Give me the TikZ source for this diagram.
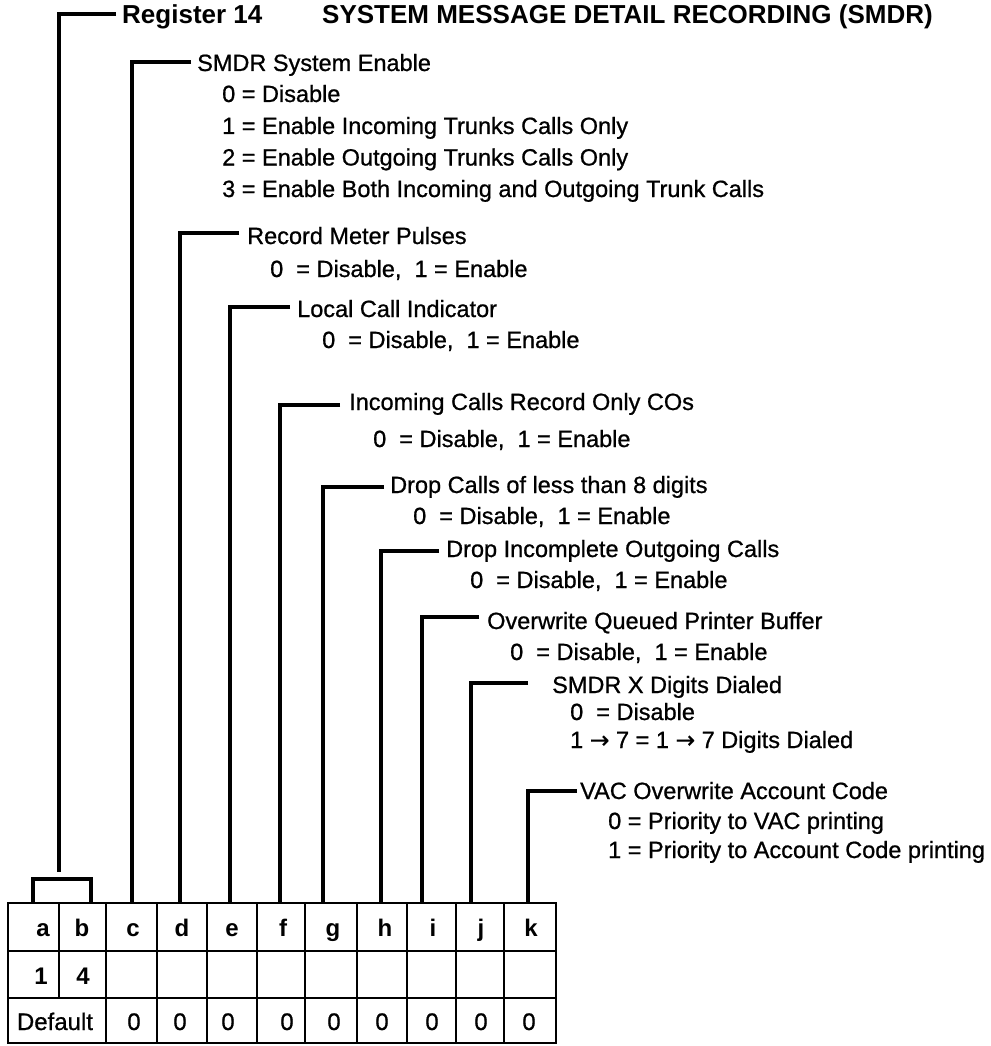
\documentclass[tikz,border=0pt]{standalone}
\usepackage{fontspec}
\setmainfont{Liberation Sans}
\newfontfamily\txtfont{Liberation Sans}[FakeBold=0.8]
\newfontfamily\arrfont{DejaVu Sans}[FakeBold=0.6]
\newcommand{\rarr}{{\arrfont →}}
\begin{document}
\begin{tikzpicture}[x=1pt,y=-1pt,
  lead/.style={line width=3.1pt, line join=miter},
  tab/.style={line width=2.9pt},
  ttl/.style={anchor=base west, inner sep=0pt, font=\fontsize{26}{30}\selectfont\bfseries},
  txt/.style={anchor=base west, inner sep=0pt, font=\fontsize{23.5}{28}\selectfont\txtfont},
  cellb/.style={anchor=base, inner sep=0pt, font=\fontsize{24}{28}\selectfont\bfseries},
  cellr/.style={anchor=base, inner sep=0pt, font=\fontsize{24}{28}\selectfont\txtfont}]
\useasboundingbox (0,0) rectangle (990,1046);

% ---- texts
\node[ttl] (reg) at (122,23.5) {Register 14};
\node[ttl] (sys) at (322,23.5) {SYSTEM MESSAGE DETAIL RECORDING (SMDR)};

\node[txt] (hc) at (197,71) {SMDR System Enable};
\node[txt] (c0) at (222,102) {0 = Disable};
\node[txt] (c1) at (222,134) {1 = Enable Incoming Trunks Calls Only};
\node[txt] (c2) at (222,165.5) {2 = Enable Outgoing Trunks Calls Only};
\node[txt] (c3) at (222,197) {3 = Enable Both Incoming and Outgoing Trunk Calls};

\node[txt] (hd) at (247,244) {Record Meter Pulses};
\node[txt] (d0) at (270,277) {0\ \ = Disable,\ \ 1 = Enable};

\node[txt] (he) at (297,317) {Local Call Indicator};
\node[txt] (e0) at (322,348) {0\ \ = Disable,\ \ 1 = Enable};

\node[txt] (hf) at (349,410) {Incoming Calls Record Only COs};
\node[txt] (f0) at (373,447) {0\ \ = Disable,\ \ 1 = Enable};

\node[txt] (hg) at (390,493) {Drop Calls of less than 8 digits};
\node[txt] (g0) at (413,524) {0\ \ = Disable,\ \ 1 = Enable};

\node[txt] (hh) at (446,557) {Drop Incomplete Outgoing Calls};
\node[txt] (h0) at (470,588) {0\ \ = Disable,\ \ 1 = Enable};

\node[txt] (hi) at (487,629) {Overwrite Queued Printer Buffer};
\node[txt] (i0) at (510,660) {0\ \ = Disable,\ \ 1 = Enable};

\node[txt] (hj) at (552,693) {SMDR X Digits Dialed};
\node[txt] (j0) at (570,720) {0\ \ = Disable};
\node[txt] (j1) at (570,748) {1 \rarr{} 7 = 1 \rarr{} 7 Digits Dialed};

\node[txt] (hk) at (580,799) {VAC Overwrite Account Code};
\node[txt] (k0) at (608,829) {0 = Priority to VAC printing};
\node[txt] (k1) at (608,858) {1 = Priority to Account Code printing};

% ---- table top anchor points for leaders
\coordinate (ta) at (59,872);
\coordinate (tc) at (132,903);
\coordinate (td) at (180,903);
\coordinate (te) at (230,903);
\coordinate (tf) at (280,903);
\coordinate (tg) at (323,903);
\coordinate (th) at (381,903);
\coordinate (ti) at (422,903);
\coordinate (tj) at (471,903);
\coordinate (tk) at (528,903);

% ---- leader corners and ends
\coordinate (ra) at (59,14);   \coordinate (re) at (116,14);
\coordinate (rc) at (132,62);  \coordinate (ec) at (191,62);
\coordinate (rd) at (180,233); \coordinate (ed) at (239,233);
\coordinate (rE) at (230,307); \coordinate (eE) at (290,307);
\coordinate (rf) at (280,405); \coordinate (ef) at (340,405);
\coordinate (rg) at (323,487); \coordinate (eg) at (384,487);
\coordinate (rh) at (381,551); \coordinate (eh) at (439,551);
\coordinate (ri) at (422,617); \coordinate (ei) at (479,617);
\coordinate (rj) at (471,683); \coordinate (ej) at (528,683);
\coordinate (rk) at (528,791); \coordinate (ek) at (577,791);

\draw[lead] (re) -- (ra) -- (ta);
\draw[lead] (ec) -- (rc) -- (tc);
\draw[lead] (ed) -- (rd) -- (td);
\draw[lead] (eE) -- (rE) -- (te);
\draw[lead] (ef) -- (rf) -- (tf);
\draw[lead] (eg) -- (rg) -- (tg);
\draw[lead] (eh) -- (rh) -- (th);
\draw[lead] (ei) -- (ri) -- (ti);
\draw[lead] (ej) -- (rj) -- (tj);
\draw[lead] (ek) -- (rk) -- (tk);

% bracket over a,b
\coordinate (bl) at (33,903);
\coordinate (br) at (91,903);
\draw[lead] (bl) -- (33,879) -- (91,879) -- (br);

% ---- table
\draw[tab] (8,903) rectangle (556,1043);
\draw[tab] (8,951) -- (556,951);
\draw[tab] (8,998) -- (556,998);
\draw[tab] (59,903) -- (59,998);
\foreach \x in {106,157,207,257,305,357,407,456,504}
  \draw[tab] (\x,903) -- (\x,1043);

% header row
\node[cellb] (la) at (43,936) {a};
\node[cellb] (lb) at (82,936) {b};
\node[cellb] (lc) at (133,936) {c};
\node[cellb] (ld) at (182,936) {d};
\node[cellb] (le) at (232,936) {e};
\node[cellb] (lf) at (283,936) {f};
\node[cellb] (lg) at (333,936) {g};
\node[cellb] (lh) at (385,936) {h};
\node[cellb] (li) at (433,936) {i};
\node[cellb] (lj) at (481,936) {j};
\node[cellb] (lk) at (531,936) {k};
% second row
\node[cellb] (va) at (41,984) {1};
\node[cellb] (vb) at (83,984) {4};
% default row
\node[cellr] (dflt) at (55,1030) {Default};
\node[cellr] (dc) at (134,1030) {0};
\node[cellr] (dd) at (180,1030) {0};
\node[cellr] (de) at (228,1030) {0};
\node[cellr] (df) at (287,1030) {0};
\node[cellr] (dg) at (334,1030) {0};
\node[cellr] (dh) at (382,1030) {0};
\node[cellr] (di) at (432,1030) {0};
\node[cellr] (dj) at (481,1030) {0};
\node[cellr] (dk) at (529,1030) {0};
\end{tikzpicture}
\end{document}
